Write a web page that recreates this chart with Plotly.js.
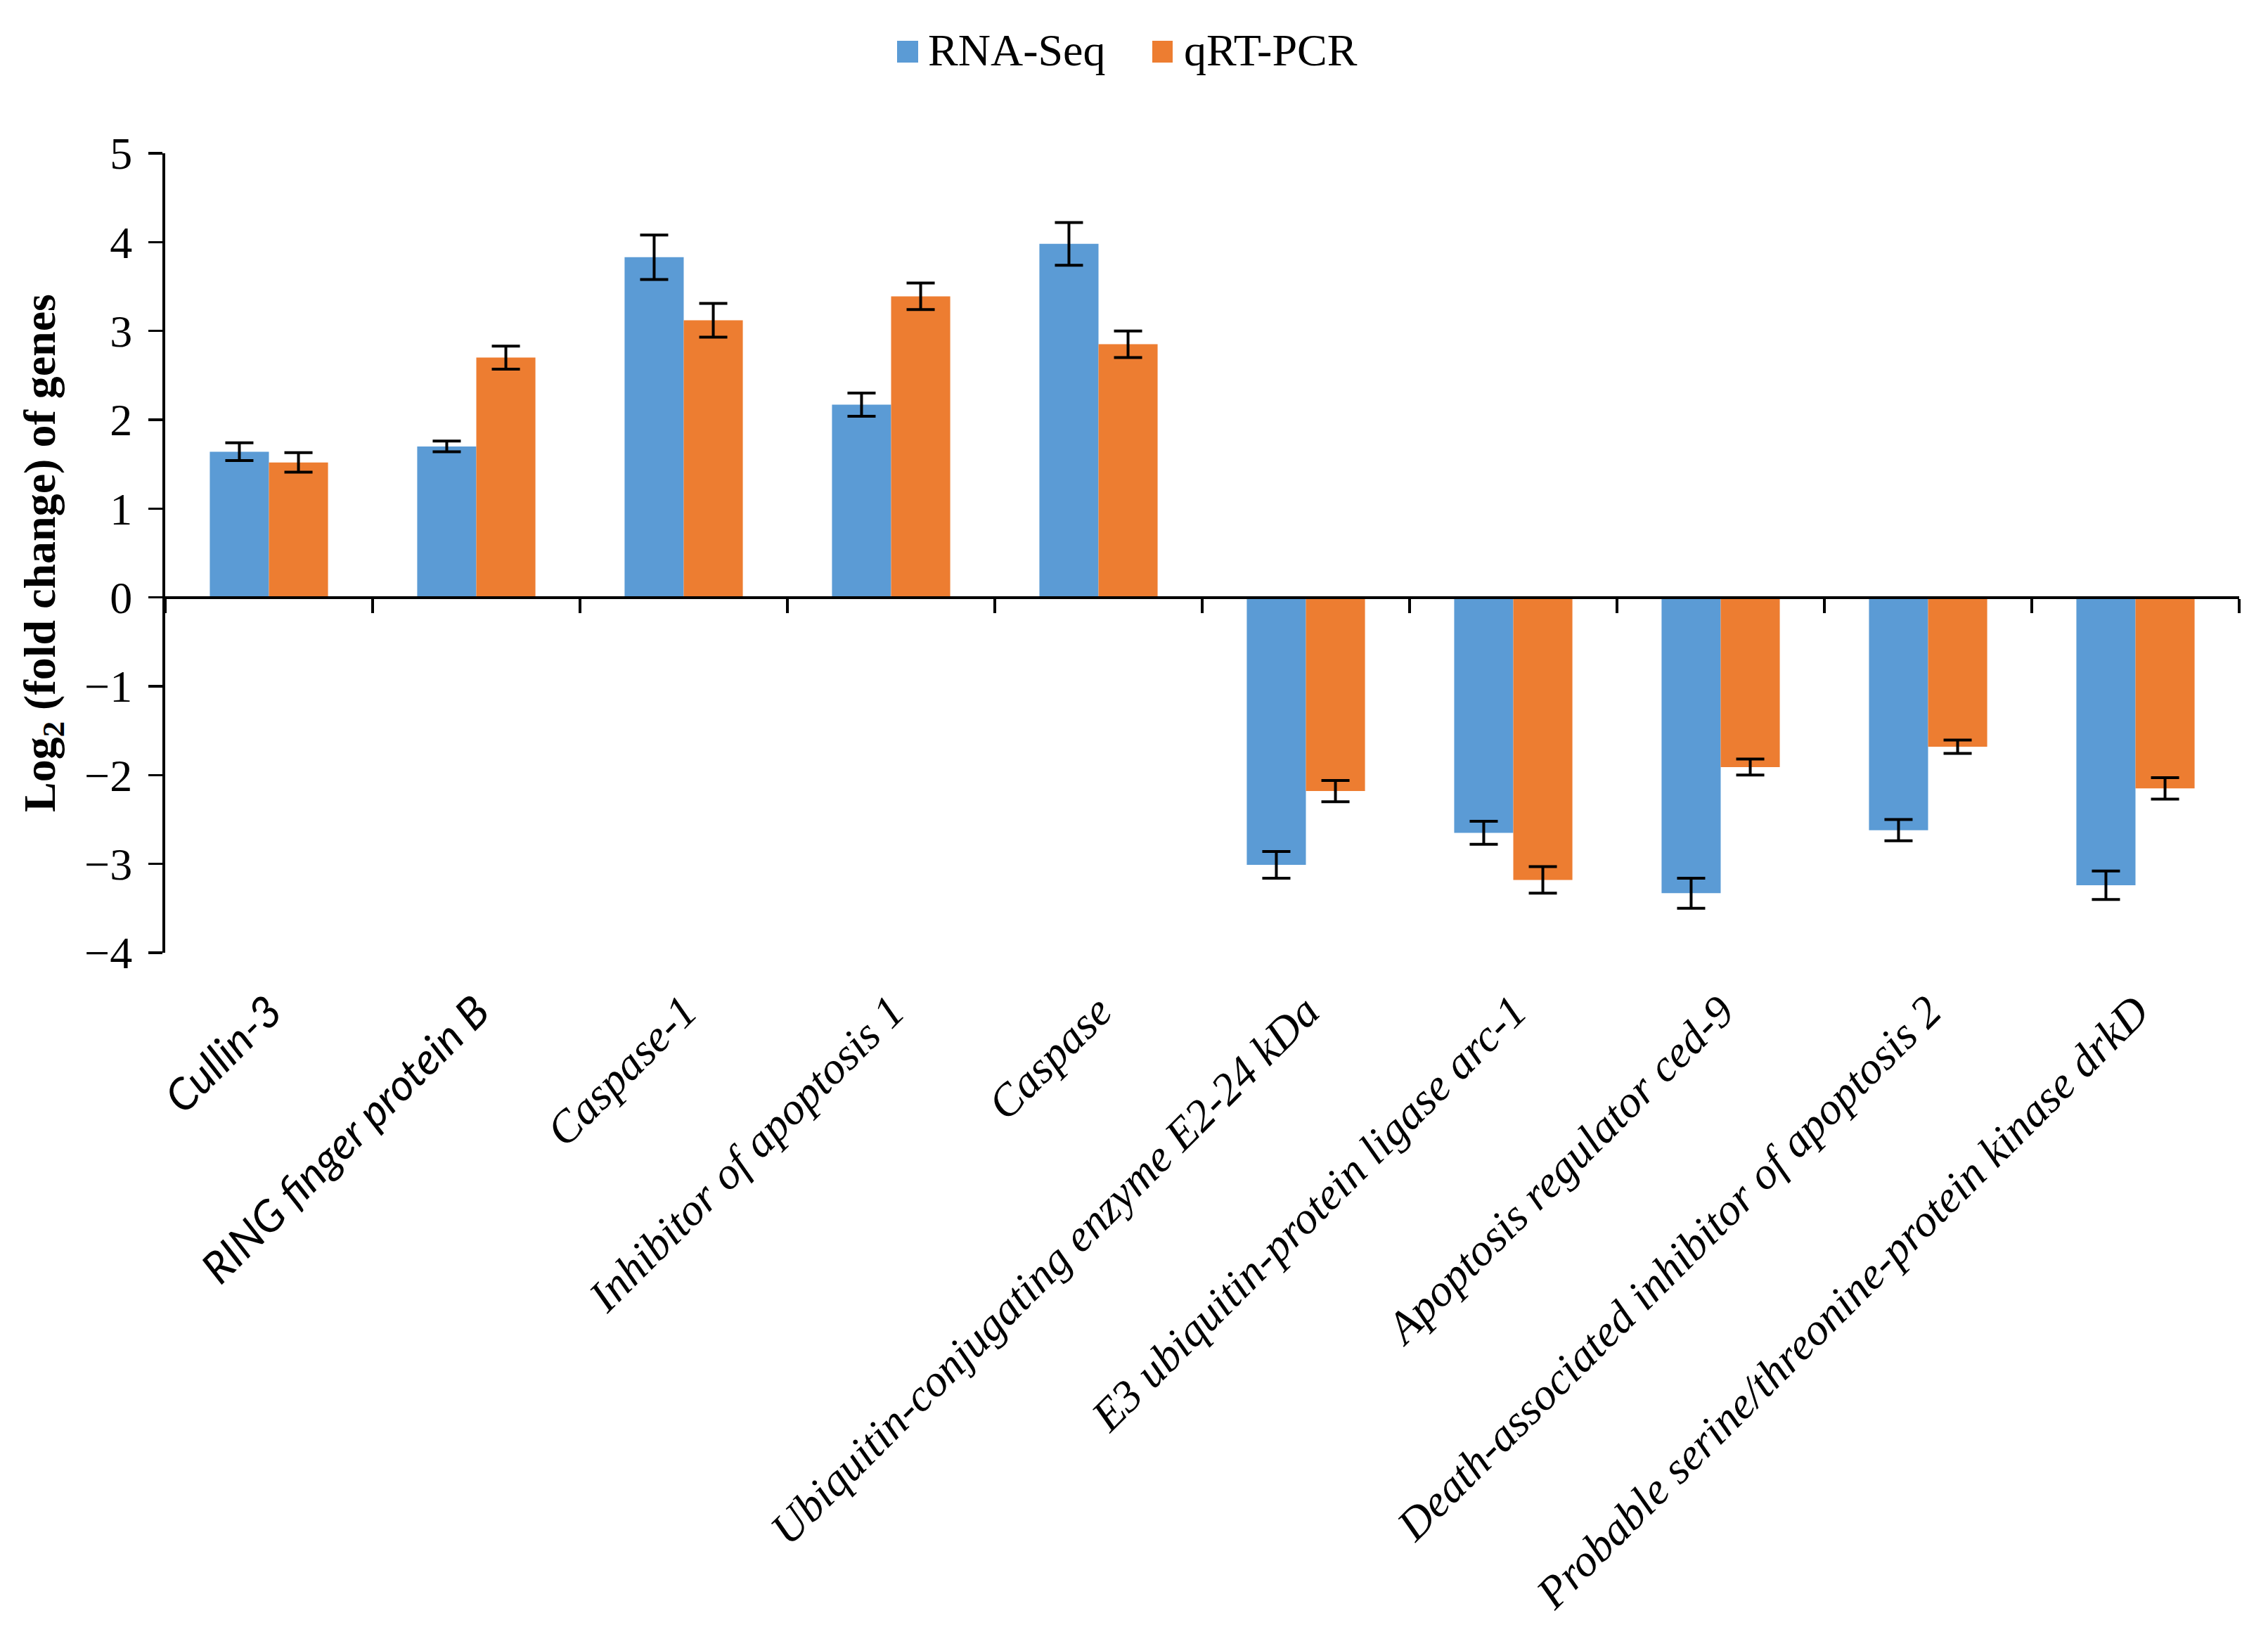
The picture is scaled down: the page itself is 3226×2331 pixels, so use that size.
<!DOCTYPE html>
<html>
<head>
<meta charset="utf-8">
<script src="https://cdn.plot.ly/plotly-3.0.1.min.js"></script>
<style>html,body{margin:0;padding:0;background:#fff;}</style>
</head>
<body>
<div id="chart" style="width:3226px;height:2331px;"></div>
<script>
// ---- data ----
const categories = [
  "Cullin-3",
  "RING finger protein B",
  "Caspase-1",
  "Inhibitor of apoptosis 1",
  "Caspase",
  "Ubiquitin-conjugating enzyme E2-24 kDa",
  "E3 ubiquitin-protein ligase arc-1",
  "Apoptosis regulator ced-9",
  "Death-associated inhibitor of apoptosis 2",
  "Probable serine/threonine-protein kinase drkD"
];
const sansLabels = ["Cullin-3", "RING finger protein B"];
const rnaSeq    = [1.64, 1.70, 3.83, 2.17, 3.98, -3.01, -2.65, -3.33, -2.62, -3.24];
const rnaSeqErr = [0.10, 0.06, 0.25, 0.13, 0.24, 0.15, 0.13, 0.17, 0.12, 0.16];
const qpcr      = [1.52, 2.70, 3.12, 3.39, 2.85, -2.18, -3.18, -1.91, -1.68, -2.15];
const qpcrErr   = [0.11, 0.13, 0.19, 0.15, 0.15, 0.12, 0.15, 0.09, 0.075, 0.12];
const seriesNames = ["RNA-Seq", "qRT-PCR"];
const yTicks = [-4, -3, -2, -1, 0, 1, 2, 3, 4, 5];

// ---- styles ----
const BLUE = "#5B9BD5", ORANGE = "#ED7D31";
const SERIF = "'Liberation Serif', 'Times New Roman', serif";

const tickText = categories.map(c =>
  sansLabels.includes(c) ? '<span style="font-family:Lato;font-size:62px">' + c + '</span>' : c
);

const errStyle = {type: 'data', visible: true, color: '#000', thickness: 4, width: 20};

const traces = [
  {
    type: 'bar', name: seriesNames[0], x: categories, y: rnaSeq,
    marker: {color: BLUE},
    error_y: Object.assign({array: rnaSeqErr}, errStyle),
    showlegend: false
  },
  {
    type: 'bar', name: seriesNames[1], x: categories, y: qpcr,
    marker: {color: ORANGE},
    error_y: Object.assign({array: qpcrErr}, errStyle),
    showlegend: false
  },
  // helper trace so the zero-line tick axis exists
  {type: 'scatter', x: [], y: [], xaxis: 'x2', yaxis: 'y', showlegend: false, hoverinfo: 'skip'}
];

// boundary ticks on the zero line
const boundaryTicks = [-0.5].concat(categories.map((_, i) => i + 0.5));

const W = 3226, H = 2331;
const mL = 235, mR = 41, mT = 218, mB = 976;
const pw = W - mL - mR, ph = H - mT - mB;
const px2x = p => (p - mL) / pw;
const px2y = p => (H - mB - p) / ph;
const zeroPos = (0 - yTicks[0]) / (yTicks[yTicks.length - 1] - yTicks[0]);

const layout = {
  width: W, height: H,
  margin: {l: mL, r: mR, t: mT, b: mB},
  paper_bgcolor: '#fff', plot_bgcolor: '#fff',
  barmode: 'group', bargap: 0.43, bargroupgap: 0,
  showlegend: false,
  font: {family: SERIF, color: '#000', size: 62},
  xaxis: {
    type: 'category', range: [-0.5, categories.length - 0.5],
    tickmode: 'array', tickvals: categories, ticktext: tickText,
    showline: false, ticks: '', showgrid: false, zeroline: false,
    tickangle: -45, ticklabelstandoff: 32,
    tickfont: {family: SERIF, size: 64, style: 'italic', color: '#000'},
    fixedrange: true
  },
  xaxis2: {
    overlaying: 'x', anchor: 'free', position: zeroPos,
    range: [-0.5, categories.length - 0.5],
    tickmode: 'array', tickvals: boundaryTicks,
    showticklabels: false, ticks: 'outside', ticklen: 20, tickwidth: 3.5, tickcolor: '#000',
    showline: true, linecolor: '#000', linewidth: 4,
    showgrid: false, zeroline: false, fixedrange: true
  },
  yaxis: {
    range: [yTicks[0], yTicks[yTicks.length - 1]],
    tickmode: 'array', tickvals: yTicks,
    ticks: 'outside', ticklen: 20, tickwidth: 3.5, tickcolor: '#000',
    showline: true, linecolor: '#000', linewidth: 4,
    showgrid: false, zeroline: false,
    tickfont: {family: SERIF, size: 64, color: '#000'},
    ticklabelstandoff: 10,
    title: {
      text: '<b>Log<sub>2</sub> (fold change) of genes</b>',
      font: {family: SERIF, size: 64, color: '#000'},
      standoff: 22
    },
    fixedrange: true
  },
  shapes: [
    {type: 'rect', xref: 'paper', yref: 'paper', x0: px2x(1276), x1: px2x(1306), y0: px2y(89), y1: px2y(58),
     fillcolor: BLUE, line: {width: 0}},
    {type: 'rect', xref: 'paper', yref: 'paper', x0: px2x(1639), x1: px2x(1668), y0: px2y(89), y1: px2y(58),
     fillcolor: ORANGE, line: {width: 0}}
  ],
  annotations: [
    {xref: 'paper', yref: 'paper', x: px2x(1318), y: px2y(72), xanchor: 'left', yanchor: 'middle',
     text: seriesNames[0], showarrow: false, font: {family: SERIF, size: 64, color: '#000'}},
    {xref: 'paper', yref: 'paper', x: px2x(1682), y: px2y(72), xanchor: 'left', yanchor: 'middle',
     text: seriesNames[1], showarrow: false, font: {family: SERIF, size: 64, color: '#000'}}
  ]
};

Plotly.newPlot('chart', traces, layout, {displayModeBar: false, staticPlot: true});
</script>
</body>
</html>
